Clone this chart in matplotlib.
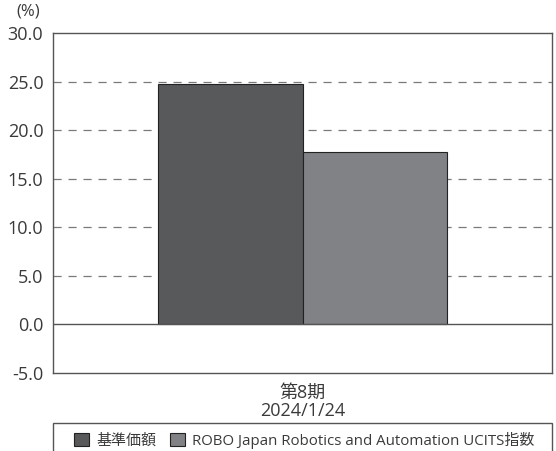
import matplotlib.pyplot as plt
from matplotlib.patches import Rectangle

plt.rcParams['font.family'] = ['Open Sans', 'Noto Sans CJK JP', 'DejaVu Sans']

# ---------------------------------------------------------------------
# data

categories = ['第8期\n2024/1/24']
series_names = ['基準価額', 'ROBO Japan Robotics and Automation UCITS指数']
series_values = [[24.8], [17.7]]
series_colors = ['#58595b', '#808285']

y_ticks = [-5, 0, 5, 10, 15, 20, 25, 30]
y_tick_labels = ['-5.0', '0.0', '5.0', '10.0', '15.0', '20.0', '25.0', '30.0']

# ---------------------------------------------------------------------

def main():

    fig = plt.figure(figsize=(5.56, 4.51), dpi=100)
    ax = fig.add_axes([53 / 556, 78 / 451, 499 / 556, 340 / 451])

    bar_width = 0.58
    text_color = '#3a3a3a'

    # dashed grid behind bars, solid zero line
    for tick in y_ticks:
        if tick == 0:
            ax.axhline(tick, color='#555555', linewidth=1.0, zorder=3)
        elif -5 < tick < 30:
            ax.axhline(tick, color='#7a7a7a', linewidth=0.9,
                       linestyle=(0, (6.5, 5.5)), zorder=0)

    handles = []
    for i in range(len(series_names)):
        offset = -bar_width if i == 0 else 0
        bars = ax.bar([offset], series_values[i], bar_width, align='edge',
                      color=series_colors[i], edgecolor='#222222',
                      linewidth=0.8, zorder=2, label=series_names[i])
        handles.append(bars)

    ax.set_xlim(-1, 1)
    ax.set_ylim(-5, 30)

    ax.set_yticks(y_ticks)
    ax.set_yticklabels(y_tick_labels)
    ax.set_xticks([0])
    ax.set_xticklabels(categories, linespacing=1.0)

    ax.tick_params(axis='y', length=0, pad=7, labelsize=13,
                   labelcolor=text_color)
    ax.tick_params(axis='x', length=0, pad=8, labelsize=13,
                   labelcolor=text_color)

    for side in ['left', 'right', 'top', 'bottom']:
        ax.spines[side].set_color('#555555')
        ax.spines[side].set_linewidth(1.0)

    fig.text(28 / 556, 1 - 12 / 451, '(%)', ha='center', va='center',
             fontsize=12, color=text_color)

    # legend frame runs off the bottom of the picture
    frame = Rectangle((53 / 556, -0.05), 499 / 556, 0.05 + 28 / 451,
                      transform=fig.transFigure, facecolor='white',
                      edgecolor='#555555', linewidth=1.0)
    fig.patches.append(frame)

    fig.legend(handles, series_names, loc='center',
               bbox_to_anchor=(304 / 556, 11 / 451), ncol=2,
               frameon=False, fontsize=10.8, handlelength=1.0,
               handleheight=1.0, handletextpad=0.5, columnspacing=0.9,
               labelcolor=text_color)

    fig.savefig('out.png', dpi=100)


main()
